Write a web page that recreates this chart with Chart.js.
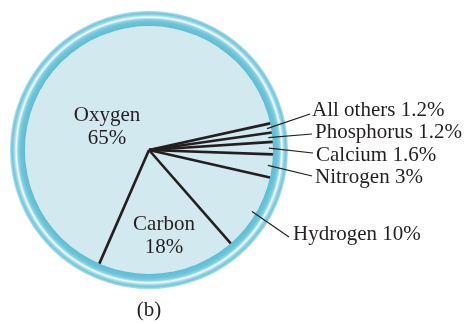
<!DOCTYPE html>
<html>
<head>
<meta charset="utf-8">
<script src="https://cdn.jsdelivr.net/npm/chart.js@4.4.1/dist/chart.umd.min.js"></script>
<style>
  html, body { margin: 0; padding: 0; background: #ffffff; }
  #wrap { width: 465px; height: 324px; position: relative; }
</style>
</head>
<body>
<div id="wrap"><canvas id="c" width="465" height="324"></canvas></div>
<script>
// Elements of the human body, percent by mass
const elements = ['Oxygen', 'All others', 'Phosphorus', 'Calcium', 'Nitrogen', 'Hydrogen', 'Carbon'];
const percents = [65, 1.2, 1.2, 1.6, 3, 10, 18];
const caption = '(b)';

const FONT = '21px "Liberation Serif", "Times New Roman", serif';
const INK = '#231f20';

// Where each label sits: inside labels are centred two-liners, outside ones
// are single lines joined to their slice by a thin leader.
const labelLayout = {
  'Oxygen':     { inside: true, x: 107, y: 121 },
  'Carbon':     { inside: true, x: 164, y: 230 },
  'All others': { x: 312, y: 116, lx: 310, ly: 114 },
  'Phosphorus': { x: 315, y: 138, lx: 312, ly: 134 },
  'Calcium':    { x: 316, y: 161, lx: 313, ly: 153 },
  'Nitrogen':   { x: 315, y: 183, lx: 312, ly: 176 },
  'Hydrogen':   { x: 293, y: 240, lx: 289, ly: 237 }
};

const decor = {
  id: 'decor',
  afterDatasetsDraw(chart) {
    const ctx = chart.ctx;
    const arcs = chart.getDatasetMeta(0).data;
    if (!arcs.length) return;
    const cx = arcs[0].x, cy = arcs[0].y, r = arcs[0].outerRadius;
    const ringW = r * 0.122;

    // glossy rim around the disc
    const g = ctx.createRadialGradient(cx, cy, r, cx, cy, r + ringW);
    g.addColorStop(0.00, '#5dbdd3');
    g.addColorStop(0.30, '#6cc5d9');
    g.addColorStop(0.45, '#8ed2e2');
    g.addColorStop(0.58, '#f2fbfd');
    g.addColorStop(0.70, '#a6dbe8');
    g.addColorStop(0.84, '#6fc6da');
    g.addColorStop(1.00, '#b8e2ec');
    ctx.save();
    ctx.beginPath();
    ctx.arc(cx, cy, r + ringW, 0, Math.PI * 2);
    ctx.arc(cx, cy, r, 0, Math.PI * 2, true);
    ctx.fillStyle = g;
    ctx.fill();

    // radial separators between slices
    ctx.strokeStyle = INK;
    ctx.lineWidth = 2.6;
    ctx.lineCap = 'butt';
    arcs.forEach(a => {
      ctx.beginPath();
      ctx.moveTo(cx, cy);
      ctx.lineTo(cx + Math.cos(a.startAngle) * r, cy + Math.sin(a.startAngle) * r);
      ctx.stroke();
    });

    // labels
    ctx.font = FONT;
    ctx.fillStyle = INK;
    ctx.textBaseline = 'alphabetic';
    arcs.forEach((a, i) => {
      const name = elements[i];
      const pct = percents[i] + '%';
      const L = labelLayout[name];
      if (L.inside) {
        ctx.textAlign = 'center';
        ctx.fillText(name, L.x, L.y);
        ctx.fillText(pct, L.x, L.y + 23);
      } else {
        const mid = (a.startAngle + a.endAngle) / 2;
        const sr = r * 0.967;
        ctx.beginPath();
        ctx.lineWidth = 1.2;
        ctx.moveTo(cx + Math.cos(mid) * sr, cy + Math.sin(mid) * sr);
        ctx.lineTo(L.lx, L.ly);
        ctx.stroke();
        ctx.textAlign = 'left';
        ctx.fillText(name + ' ' + pct, L.x, L.y);
      }
    });

    ctx.textAlign = 'center';
    ctx.fillText(caption, cx, 316);
    ctx.restore();
  }
};

new Chart(document.getElementById('c'), {
  type: 'pie',
  data: {
    labels: elements,
    datasets: [{
      data: percents,
      backgroundColor: '#d3e9f0',
      borderWidth: 0,
      hoverOffset: 0
    }]
  },
  options: {
    responsive: false,
    animation: false,
    events: [],
    rotation: 203.6,
    layout: { padding: { left: 25, right: 192, top: 26, bottom: 50 } },
    plugins: {
      legend: { display: false },
      tooltip: { enabled: false },
      title: { display: false }
    }
  },
  plugins: [decor]
});
</script>
</body>
</html>
